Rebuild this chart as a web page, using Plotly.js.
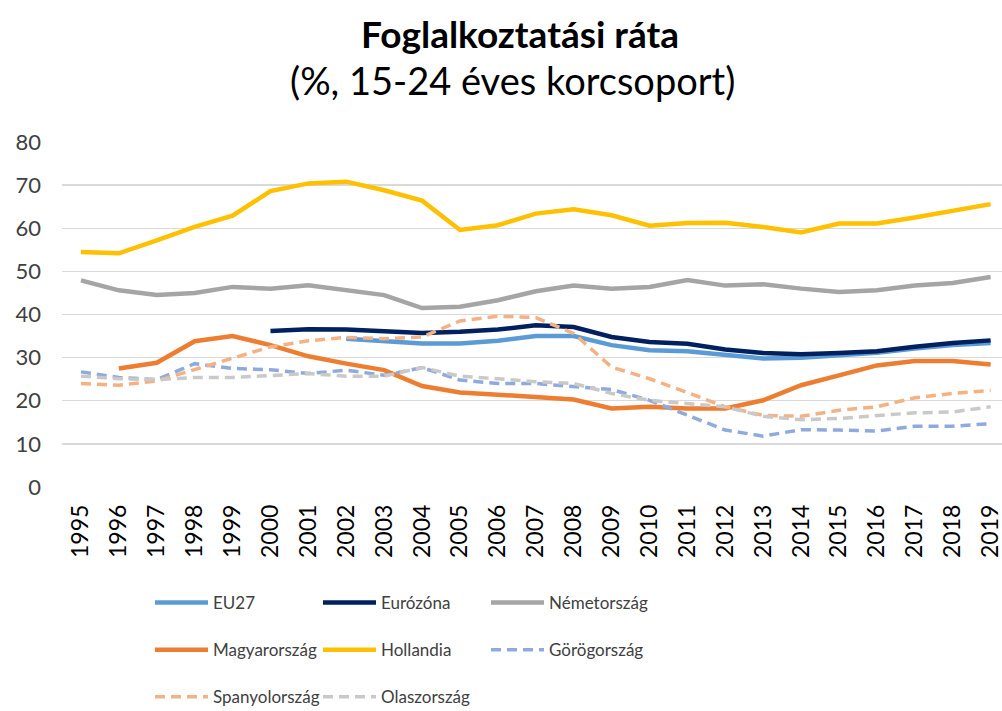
<!DOCTYPE html>
<html>
<head>
<meta charset="utf-8">
<script src="https://cdn.plot.ly/plotly-3.0.1.min.js"></script>
<style>html,body{margin:0;padding:0;background:#fff;}#chart{width:1002px;height:711px;}</style>
</head>
<body>
<div id="chart"></div>
<script>
const years = ['1995','1996','1997','1998','1999','2000','2001','2002','2003','2004','2005','2006','2007','2008','2009','2010','2011','2012','2013','2014','2015','2016','2017','2018','2019'];
const eu27 = [null,null,null,null,null,null,null,34.4,33.9,33.3,33.3,33.9,35.0,35.0,32.9,31.7,31.5,30.6,29.8,30.0,30.6,31.1,32.1,32.9,33.4];
const eurozona = [null,null,null,null,null,36.2,36.6,36.5,36.2,35.7,36.0,36.5,37.5,37.1,34.8,33.6,33.2,31.9,31.1,30.8,31.1,31.5,32.5,33.4,34.0];
const nemetorszag = [47.9,45.6,44.5,45.0,46.4,46.0,46.8,45.6,44.5,41.5,41.8,43.3,45.4,46.7,46.0,46.4,48.0,46.7,47.0,46.0,45.2,45.6,46.7,47.3,48.7];
const magyarorszag = [null,27.5,28.8,33.8,35.0,32.9,30.3,28.6,27.1,23.4,21.9,21.4,20.9,20.3,18.2,18.6,18.2,18.2,20.1,23.6,25.9,28.2,29.2,29.2,28.4];
const hollandia = [54.5,54.2,57.2,60.3,62.9,68.6,70.4,70.8,68.8,66.4,59.6,60.7,63.4,64.4,63.0,60.6,61.2,61.3,60.3,59.0,61.1,61.1,62.5,64.0,65.6];
const gorogorszag = [26.7,25.4,24.9,28.6,27.5,27.2,26.3,27.1,25.9,27.7,24.8,24.0,24.0,23.4,22.6,20.1,16.7,13.2,11.8,13.3,13.2,13.0,14.1,14.1,14.7];
const spanyolorszag = [24.0,23.6,24.6,27.2,30.0,32.5,33.9,34.7,34.4,34.8,38.5,39.6,39.3,35.6,27.8,25.1,21.9,18.6,16.6,16.4,17.8,18.6,20.7,21.7,22.4];
const olaszorszag = [25.7,25.1,24.9,25.4,25.4,25.9,26.3,25.7,25.7,27.7,25.7,25.1,24.4,24.0,21.7,20.1,19.3,18.6,16.4,15.6,15.9,16.6,17.2,17.4,18.6];
const yTicks = [0,10,20,30,40,50,60,70,80];

const FONT = 'Lato, "Open Sans", sans-serif';
const DASH = '10px,6px';
function tr(name, y, color, dashed, legend) {
  return {
    type: 'scatter', mode: 'lines', name: name, x: years, y: y,
    line: {color: color, width: dashed ? 3.5 : 4.5, dash: dashed ? DASH : 'solid'},
    connectgaps: false, legend: legend, legendgroup: name, hoverinfo: 'x+y+name'
  };
}
const data = [
  tr('EU27', eu27, '#5B9BD5', false, 'legend'),
  tr('Eurózóna', eurozona, '#002060', false, 'legend2'),
  tr('Németország', nemetorszag, '#A5A5A5', false, 'legend3'),
  tr('Magyarország', magyarorszag, '#ED7D31', false, 'legend'),
  tr('Hollandia', hollandia, '#FFC000', false, 'legend2'),
  tr('Görögország', gorogorszag, '#8FAADC', true, 'legend3'),
  tr('Spanyolország', spanyolorszag, '#F4B183', true, 'legend'),
  tr('Olaszország', olaszorszag, '#C9C9C9', true, 'legend2')
];
function leg(xPx) {
  return {
    orientation: 'v', xref: 'container', yref: 'container',
    x: xPx/1002, xanchor: 'left', y: 1 - 585/711, yanchor: 'top',
    font: {family: FONT, size: 17, color: '#404040'},
    itemwidth: 53, tracegroupgap: 22,
    bgcolor: 'rgba(0,0,0,0)', traceorder: 'grouped'
  };
}
const layout = {
  width: 1002, height: 711,
  margin: {l: 62, r: 0, t: 142, b: 224, pad: 0, autoexpand: false},
  paper_bgcolor: '#ffffff', plot_bgcolor: '#ffffff',
  font: {family: FONT, color: '#404040'},
  title: {
    text: '<b>Foglalkoztatási ráta</b>',
    font: {family: FONT, size: 37, color: '#000000'},
    xref: 'container', yref: 'container', x: 520/1002, xanchor: 'center',
    y: 1 - 35/711, yanchor: 'middle'
  },
  annotations: [{
    text: '(%, 15-24 éves korcsoport)', showarrow: false,
    xref: 'paper', yref: 'paper', x: (512-62)/940, xanchor: 'center',
    y: (486.7-80)/344.7, yanchor: 'middle',
    font: {family: FONT, size: 38, color: '#000000'}
  }],
  xaxis: {
    type: 'category', range: [-0.5, 24.3], tickangle: -90,
    showgrid: false, showline: false, zeroline: false, ticks: '',
    tickfont: {family: FONT, size: 23, color: '#000000'},
    ticklabelstandoff: 12, fixedrange: true, automargin: false
  },
  yaxis: {
    range: [0, 80], tickvals: yTicks, ticktext: yTicks.map(String),
    showgrid: true, gridcolor: '#D9D9D9', gridwidth: 1.3,
    zeroline: false, showline: false, ticks: '',
    tickfont: {family: FONT, size: 22, color: '#404040'},
    ticklabelstandoff: 20, fixedrange: true, automargin: false
  },
  showlegend: true,
  legend: leg(150),
  legend2: leg(318),
  legend3: leg(486)
};
Plotly.newPlot('chart', data, layout, {staticPlot: true, displayModeBar: false});
</script>
</body>
</html>
